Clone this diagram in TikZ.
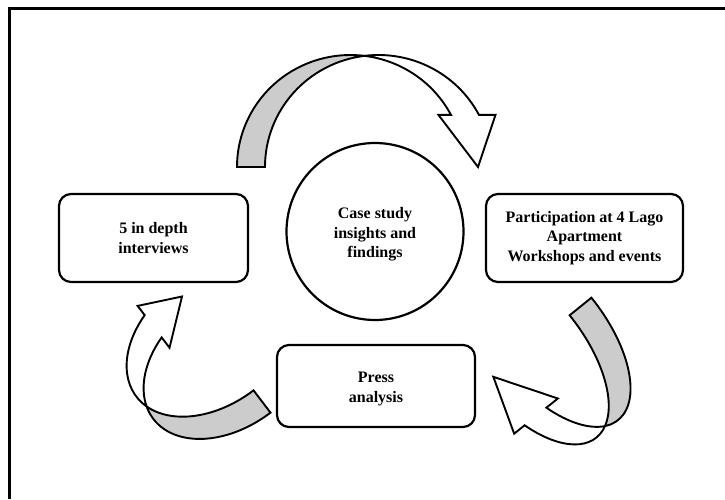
\documentclass[tikz,border=0pt]{standalone}
\usepackage{fontspec}
\setmainfont{Liberation Serif}
\definecolor{argray}{RGB}{204,204,204}
\tikzset{
  boxnode/.style={draw, line width=2.2pt, rounded corners=12pt, align=center, inner sep=0pt,
     font=\fontsize{16}{19.5}\selectfont\bfseries},
  arrline/.style={line width=1.9pt, line join=miter},
}
% #1,#2 foot centre; #3 rotation; #4 a; #5 b; #6 thickness; #7 end angle; #8,#9 wing overhangs
\newcommand{\curvarr}[9]{%
 \begin{scope}[shift={(#1,#2)}, rotate=#3]
  \pgfmathsetmacro\arTL{acos(#6/(2*#4))}
  \pgfmathsetmacro\arTR{180-\arTL}
  \pgfmathsetmacro\arLx{#4-#6/2}
  \pgfmathsetmacro\arRx{#4+#6/2}
  \pgfmathsetmacro\arEy{#5*sin(#7)}
  \pgfmathsetmacro\arELx{\arLx+#4*cos(#7)}
  \pgfmathsetmacro\arERx{\arRx+#4*cos(#7)}
  \pgfmathsetmacro\arCy{#5*sin(\arTL)}
  \draw[arrline, fill=argray] (-#6/2,0)
     arc[start angle=180, end angle=\arTL, x radius=#4pt, y radius=#5pt]
     arc[start angle=\arTR, end angle=180, x radius=#4pt, y radius=#5pt] -- cycle;
  \draw[arrline, fill=white] (#4,\arCy)
     arc[start angle=\arTR, end angle=#7, x radius=#4pt, y radius=#5pt]
     -- ({\arERx+#9},\arEy) -- ({2*#4},0) -- ({\arELx-#8},\arEy) -- (\arELx,\arEy)
     arc[start angle=#7, end angle=\arTL, x radius=#4pt, y radius=#5pt] -- cycle;
 \end{scope}}
\begin{document}
\begin{tikzpicture}[x=1pt,y=1pt]
\useasboundingbox (0,0) rectangle (725,499);
\fill[white] (0,0) rectangle (725,499);
\draw[line width=3pt] (9,0) -- (9,490) -- (725,490);

\node[boxnode, minimum width=189pt, minimum height=88pt] (interv) at (153.5,261) {5 in depth\\interviews};
\node[boxnode, minimum width=197pt, minimum height=88pt] (partic) at (584.5,261) {Participation at 4 Lago\\Apartment\\Workshops and events};
\node[boxnode, minimum width=198pt, minimum height=82pt, text depth=0pt] (press) at (376,113) {};
\node[align=center, font=\fontsize{16}{19.5}\selectfont\bfseries] (presstxt) at ([yshift=-3pt]press.center) {Press\\analysis};
\node[circle, draw, line width=2.2pt, minimum size=177pt, inner sep=0pt] (case) at (375,267.5) {};
\node[align=center, font=\fontsize{16}{19.5}\selectfont\bfseries] (casetxt) at ([yshift=-3pt]case.center) {Case study\\insights and\\findings};

\curvarr{251}{332}{0}{113.5}{112}{28}{27.7}{12.5}{16.5}
\curvarr{580.5}{192.5}{218.9}{56}{112}{28}{30.8}{14.7}{13.4}
\curvarr{262}{97.5}{127.3}{66}{97}{28}{25}{13}{11.6}
\end{tikzpicture}
\end{document}
